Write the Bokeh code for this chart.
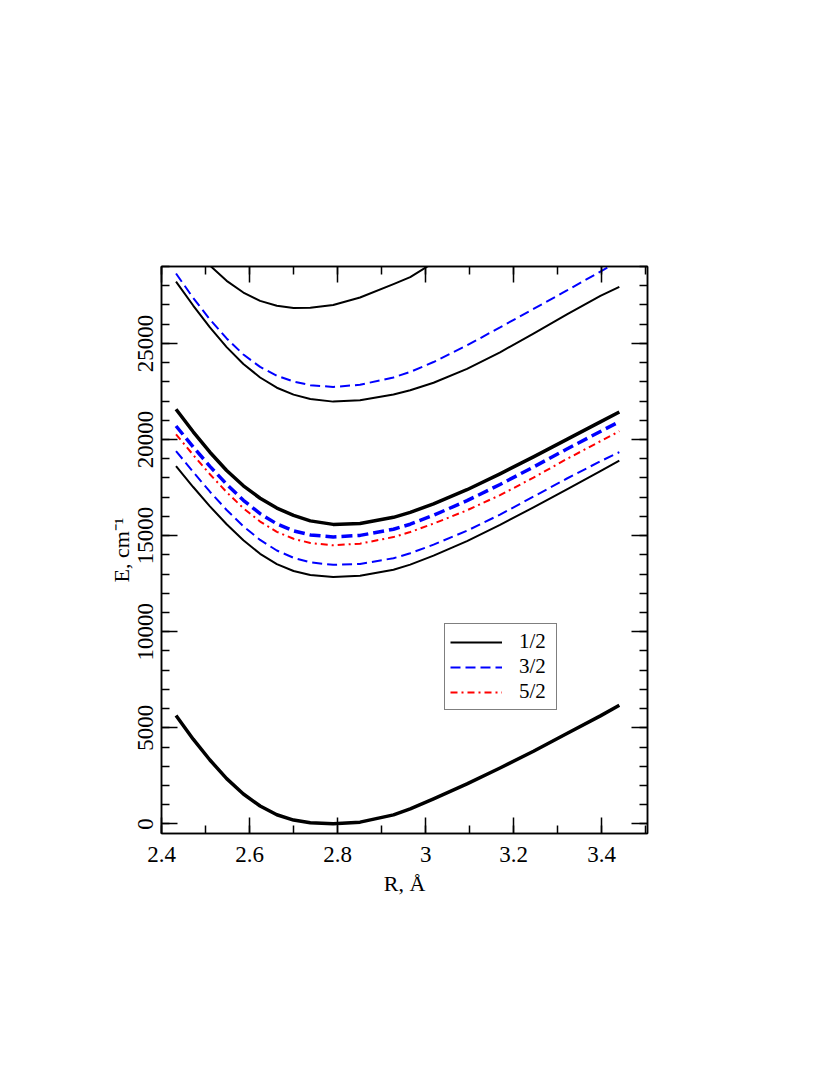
from bokeh.plotting import figure
from bokeh.models import (Range1d, LinearAxis, SingleIntervalTicker, Legend,
                          LegendItem, CustomJSTickFormatter)
from bokeh.embed import file_html
from bokeh.resources import INLINE

# ---------------- data ----------------
R = [2.433, 2.472, 2.510, 2.548, 2.586, 2.624, 2.662, 2.700, 2.738, 2.790,
     2.851, 2.927, 2.965, 3.018, 3.094, 3.169, 3.245, 3.321, 3.397, 3.440]

# Omega = 1/2 states
E_ground = [5635, 4407, 3324, 2355, 1557, 930, 474, 200, 60, 2,
            90, 470, 780, 1300, 2080, 2910, 3780, 4700, 5620, 6172]
E_half_low = [18619, 17527, 16520, 15589, 14753, 14050, 13518, 13157, 12948, 12844,
              12905, 13224, 13490, 13956, 14716, 15556, 16468, 17410, 18360, 18898]
E_half_mid = [21571, 20401, 19337, 18387, 17589, 16943, 16430, 16050, 15765, 15583,
              15632, 15951, 16209, 16649, 17386, 18211, 19093, 20005, 20917, 21433]
E_half_up = [28217, 26969, 25829, 24803, 23929, 23226, 22694, 22333, 22105, 21970,
             22043, 22339, 22559, 22951, 23673, 24536, 25509, 26512, 27470, 27943]
R_top = [2.472, 2.510, 2.548, 2.586, 2.624, 2.662, 2.700, 2.738, 2.790,
         2.851, 2.927, 2.965, 3.018]
E_half_top = [29950, 29050, 28253, 27645, 27212, 26960, 26845, 26850, 27000,
              27385, 28082, 28450, 29200]

# Omega = 3/2 states
E_3half_low = [19400, 18308, 17282, 16332, 15477, 14774, 14223, 13843, 13607, 13477,
               13526, 13822, 14080, 14531, 15253, 16093, 17028, 17970, 18867, 19340]
E_3half_mid = [20702, 19610, 18603, 17672, 16836, 16141, 15609, 15248, 15035, 14931,
               15010, 15329, 15591, 16057, 16817, 17657, 18569, 19504, 20416, 20923]
E_3half_up = [28634, 27366, 26245, 25257, 24421, 23775, 23319, 23015, 22825, 22731,
              22847, 23227, 23516, 24030, 24896, 25834, 26792, 27757, 28737, 29296]

# Omega = 5/2 state
E_5half = [20270, 19197, 18190, 17259, 16423, 15728, 15196, 14835, 14615, 14495,
           14580, 14922, 15184, 15624, 16316, 17104, 18016, 18989, 19909, 20429]

legend_labels = ["1/2", "3/2", "5/2"]

# ---------------- figure ----------------
FONT = "Liberation Serif"
p = figure(frame_width=486, frame_height=567,
           min_border_left=161, min_border_top=266,
           min_border_right=40, min_border_bottom=90,
           x_range=Range1d(2.4, 3.504), y_range=Range1d(-500, 29000),
           output_backend="svg", toolbar_location=None,
           background_fill_color="white", border_fill_color="white")
p.grid.visible = False
p.outline_line_color = "black"
p.outline_line_width = 1.5

fmt_js = "return Number(tick.toFixed(1)).toString();"


def style(ax, labels=True):
    ax.axis_line_width = 1.5
    ax.axis_line_color = "black"
    ax.major_tick_in = 16
    ax.major_tick_out = 0
    ax.minor_tick_in = 8
    ax.minor_tick_out = 0
    ax.major_tick_line_width = 1.5
    ax.minor_tick_line_width = 1.5
    ax.major_tick_line_color = "black"
    ax.minor_tick_line_color = "black"
    ax.major_label_text_font = FONT
    ax.major_label_text_font_size = "23px"
    ax.major_label_text_color = "black" if labels else None
    ax.axis_label_text_font = FONT
    ax.axis_label_text_font_size = "22px"
    ax.axis_label_text_font_style = "normal"
    ax.axis_label_text_color = "black"


xa = p.xaxis[0]
xa.ticker = SingleIntervalTicker(interval=0.2, num_minor_ticks=2)
xa.formatter = CustomJSTickFormatter(code=fmt_js)
style(xa)
xa.major_label_standoff = 13
xa.axis_label = "R, Å"
xa.axis_label_standoff = 6

ya = p.yaxis[0]
ya.ticker = SingleIntervalTicker(interval=5000, num_minor_ticks=5)
style(ya)
ya.major_label_orientation = "vertical"
ya.major_label_standoff = 8
ya.axis_label = "E, cm\u207b\u00b9"
ya.axis_label_standoff = 2

top = LinearAxis(ticker=SingleIntervalTicker(interval=0.2, num_minor_ticks=2))
style(top, labels=False)
p.add_layout(top, "above")
right = LinearAxis(ticker=SingleIntervalTicker(interval=5000, num_minor_ticks=5))
style(right, labels=False)
p.add_layout(right, "right")

# ---------------- curves ----------------
THIN, THICK = 2.0, 3.5
r_g = p.line(R, E_ground, line_color="black", line_width=THICK, line_join="round")
r_h1 = p.line(R, E_half_low, line_color="black", line_width=THIN, line_join="round")
r_h2 = p.line(R, E_half_mid, line_color="black", line_width=THICK, line_join="round")
r_h3 = p.line(R, E_half_up, line_color="black", line_width=THIN, line_join="round")
r_h4 = p.line(R_top, E_half_top, line_color="black", line_width=THIN, line_join="round")
r_t1 = p.line(R, E_3half_low, line_color="#0000ff", line_width=THIN, line_dash="10 5")
r_t2 = p.line(R, E_3half_mid, line_color="#0000ff", line_width=THICK, line_dash="11 5")
r_t3 = p.line(R, E_3half_up, line_color="#0000ff", line_width=THIN, line_dash="10 5")
r_f1 = p.line(R, E_5half, line_color="#ff0000", line_width=THIN, line_dash="7 4 2 4")

legend = Legend(items=[LegendItem(label=legend_labels[0], renderers=[r_h1]),
                       LegendItem(label=legend_labels[1], renderers=[r_t1]),
                       LegendItem(label=legend_labels[2], renderers=[r_f1])],
                location=(283, 123))
legend.border_line_color = "black"
legend.border_line_width = 1.5
legend.background_fill_color = "white"
legend.background_fill_alpha = 1.0
legend.label_text_font = FONT
legend.label_text_font_size = "21px"
legend.label_text_color = "black"
legend.glyph_width = 52
legend.glyph_height = 20
legend.label_height = 20
legend.label_width = 32
legend.label_standoff = 17
legend.padding = 5
legend.spacing = -2
legend.margin = 0
p.add_layout(legend)

open("out.html", "w").write(file_html(p, INLINE))
